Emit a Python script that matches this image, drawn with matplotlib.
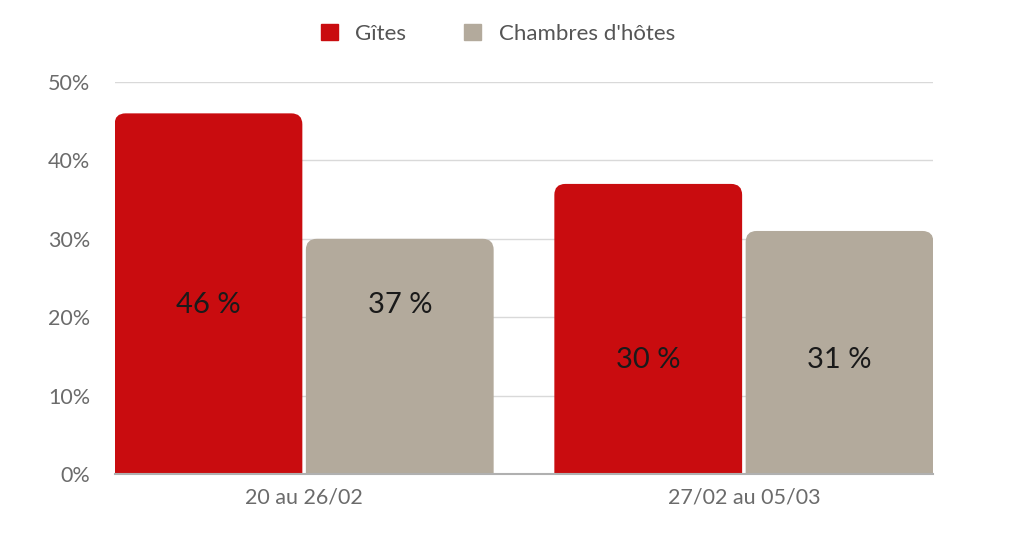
import matplotlib
matplotlib.use('Agg')
import matplotlib.pyplot as plt
from matplotlib.patches import FancyBboxPatch
import numpy as np

periods = ['20 au 26/02', '27/02 au 05/03']
series = ['Gîtes', "Chambres d'hôtes"]
gites = [46, 37]
chambres = [30, 31]
# labels as printed on the chart
gites_labels = ['46 %', '30 %']
chambres_labels = ['37 %', '31 %']
yticks = [0, 10, 20, 30, 40, 50]

red = '#C90C0F'
beige = '#B3AA9C'
tick_col = '#6b6b6b'

fig = plt.figure(figsize=(10.16, 5.33), dpi=100)
ax = fig.add_axes([115 / 1016, 59 / 533, 818 / 1016, 392 / 533])
ax.set_xlim(-0.43, 1.43)
ax.set_ylim(0, 50)

x = np.arange(len(periods))
w = 0.427
off = 0.2175
b1 = ax.bar(x - off, gites, w, color=red, label=series[0])
b2 = ax.bar(x + off, chambres, w, color=beige, label=series[1])

# rounded top corners: swap rectangles for rounded boxes, bottom clipped by axes
fig.canvas.draw()
px_x = ax.transData.transform([[1, 0]])[0][0] - ax.transData.transform([[0, 0]])[0][0]
px_y = ax.transData.transform([[0, 1]])[0][1] - ax.transData.transform([[0, 0]])[0][1]
r = 11 / px_x
aspect = px_x / px_y
for bars, col in [(b1, red), (b2, beige)]:
    for rect in bars:
        rect.set_visible(False)
        h = rect.get_height()
        p = FancyBboxPatch((rect.get_x(), -r * aspect), rect.get_width(), h + r * aspect,
                           boxstyle=f'round,pad=0,rounding_size={r}',
                           mutation_aspect=aspect, facecolor=col, edgecolor='none',
                           clip_on=True, zorder=2)
        ax.add_patch(p)

label_y = [21.5, 14.6]
for i in range(len(periods)):
    ax.text(x[i] - off, label_y[i], gites_labels[i], ha='center', va='center',
            fontsize=21, color='#1a1a1a', family='Lato', zorder=3)
    ax.text(x[i] + off, label_y[i], chambres_labels[i], ha='center', va='center',
            fontsize=21, color='#1a1a1a', family='Lato', zorder=3)

ax.set_yticks(yticks)
ax.set_yticklabels([f'{t}%' for t in yticks])
ax.set_xticks(x)
ax.set_xticklabels(periods)
ax.tick_params(axis='both', length=0, labelcolor=tick_col, labelsize=15.5)
ax.tick_params(axis='y', pad=18)
ax.tick_params(axis='x', pad=10)
for lab in ax.get_xticklabels() + ax.get_yticklabels():
    lab.set_family('Lato')

ax.grid(axis='y', color='#d9d9d9', linewidth=1, zorder=0)
ax.set_axisbelow(True)
for s in ['top', 'right', 'left']:
    ax.spines[s].set_visible(False)
ax.spines['bottom'].set_color('#b0b0b0')
ax.spines['bottom'].set_linewidth(1.5)
ax.spines['bottom'].set_zorder(4)

handles = [plt.Rectangle((0, 0), 1, 1, color=red), plt.Rectangle((0, 0), 1, 1, color=beige)]
leg = fig.legend(handles, series, loc='center', bbox_to_anchor=(498 / 1016, 1 - 34 / 533),
                 ncol=2, frameon=False, handlelength=0.75, handleheight=0.75,
                 handletextpad=0.8, columnspacing=2.6,
                 prop={'family': 'Lato', 'size': 16})
for t in leg.get_texts():
    t.set_color('#555555')

fig.savefig('out.png', dpi=100)
